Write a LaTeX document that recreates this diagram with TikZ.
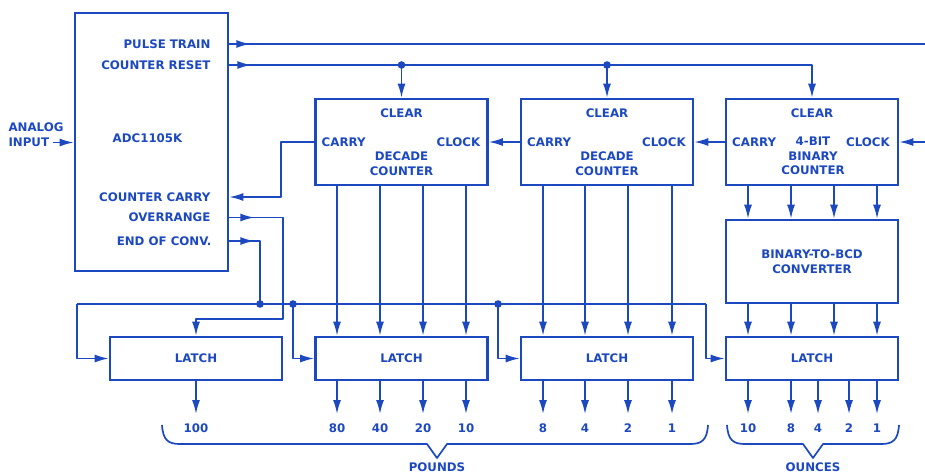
\documentclass[tikz,border=0pt]{standalone}
\usepackage{fontspec}
\setmainfont{DejaVu Sans}
\usetikzlibrary{arrows.meta,decorations.markings}
\definecolor{ink}{RGB}{28,72,192}

\begin{document}
\begin{tikzpicture}[x=1pt, y=-1pt,
  every node/.style={text=ink, font=\bfseries\fontsize{11.8}{14.5}\selectfont},
  box/.style={draw=ink, line width=2.6pt, rectangle, inner sep=0pt, minimum width=172pt},
  wire/.style={ink, line width=1.7pt, line join=round},
  >={Latex[length=14pt,width=8pt]},
  midarrow/.style={postaction={decorate},
    decoration={markings, mark=at position #1 with {\arrow{Latex[length=14pt,width=8pt]}}}}]
  \useasboundingbox (0,0) rectangle (925,475);

  \node (adc) [box, minimum width=153pt, minimum height=258pt] at (151.5,142) {};
  \node (ptLbl)  [anchor=east] at (214,44)    {PULSE TRAIN};
  \node (rstLbl) [anchor=east] at (214,65)    {COUNTER RESET};
  \node (adcName)              at (147.5,138) {ADC1105K};
  \node (carLbl) [anchor=east] at (214,197)   {COUNTER CARRY};
  \node (ovrLbl) [anchor=east] at (214,217.5) {OVERRANGE};
  \node (eocLbl) [anchor=east] at (215,241)   {END OF CONV.};
  \node (anLbl)  [anchor=west] at (5,127.5)   {ANALOG};
  \node (inLbl)  [anchor=west] at (5,142.5)   {INPUT};

  \node (tens)   [box, minimum height=86pt] at (401.5,142) {};
  \node (ones)   [box, minimum height=86pt] at (607,142)   {};
  \node (binary) [box, minimum height=86pt] at (812,142)   {};
  \node (bcd)    [box, minimum height=83pt, align=center] at (812,261.5) {BINARY-TO-BCD\\CONVERTER};

  \foreach \c in {tens,ones} {
    \node (clr\c) at ([yshift=29pt]\c.center) {CLEAR};
    \node (car\c) [anchor=west] at ([xshift=4pt]\c.west) {CARRY};
    \node (clk\c) [anchor=east] at ([xshift=-5pt]\c.east) {CLOCK};
    \node (kind\c) [align=center] at ([yshift=-21.5pt]\c.center) {DECADE\\COUNTER};
  }
  \node (clrbinary) at ([yshift=29pt]binary.center) {CLEAR};
  \node (carbinary) [anchor=west] at ([xshift=4pt]binary.west) {CARRY};
  \node (clkbinary) [anchor=east] at ([xshift=-6pt]binary.east) {CLOCK};
  \node (kindbinary) [align=center] at ([xshift=1pt,yshift=-14pt]binary.center) {4-BIT\\BINARY\\COUNTER};

  \node (latchH) [box, minimum height=43pt] at (196,358.5)   {LATCH};
  \node (latchT) [box, minimum height=43pt] at (401.5,358.5) {LATCH};
  \node (latchO) [box, minimum height=43pt] at (607,358.5)   {LATCH};
  \node (latchZ) [box, minimum height=43pt] at (812,358.5)   {LATCH};

  \coordinate (ptOut) at (925,44);
  \coordinate (clkIn) at (925,142);
  \coordinate (carJog) at (281,142);
  \coordinate (ovrJog) at (283,319);
  \coordinate (busW) at (77,304);
  \coordinate (busA) at (260,304);
  \coordinate (busB) at (293,304);
  \coordinate (busC) at (498,304);
  \coordinate (busE) at (706,304);

  \draw[wire,->] (inLbl.east) -- (adc.west |- inLbl.east);
  \draw[wire, midarrow=21pt] (adc.east |- ptLbl) -- (ptOut);
  \draw[wire, midarrow=22pt, ->] (adc.east |- rstLbl) -| (binary.north);
  \foreach \c in {tens,ones} {
    \fill[ink] (\c.north |- rstLbl) circle (3.8pt);
    \draw[wire,->] (\c.north |- rstLbl) -- (\c.north);
  }
  \draw[wire,->] (tens.west) -- (carJog) |- (adc.east |- carLbl);
  \draw[wire, midarrow=25pt, ->] (adc.east |- ovrLbl) -| (ovrJog) -| (latchH.north);

  \draw[wire,->] (ones.west) -- (tens.east);
  \draw[wire,->] (binary.west) -- (ones.east);
  \draw[wire,->] (clkIn) -- (binary.east);

  \draw[wire, midarrow=25pt] (adc.east |- eocLbl) -| (busA);
  \draw[wire] (busW) -- (busE);
  \foreach \p in {busA,busB,busC} \fill[ink] (\p) circle (3.8pt);
  \draw[wire,->] (busW) |- (latchH.west);
  \draw[wire,->] (busB) |- (latchT.west);
  \draw[wire,->] (busC) |- (latchO.west);
  \draw[wire,->] (busE) |- (latchZ.west);

  \foreach \xo/\lb [count=\i] in {337/80, 380/40, 423/20, 466/10} {
    \node (tn\i) at (\xo,428) {\lb};
    \draw[wire,->] (tn\i |- tens.south) -- (tn\i |- latchT.north);
    \draw[wire,->,shorten >=6pt] (tn\i |- latchT.south) -- (tn\i);
  }
  \foreach \xo/\lb [count=\i] in {543/8, 585/4, 628/2, 672/1} {
    \node (on\i) at (\xo,428) {\lb};
    \draw[wire,->] (on\i |- ones.south) -- (on\i |- latchO.north);
    \draw[wire,->,shorten >=6pt] (on\i |- latchO.south) -- (on\i);
  }
  \foreach \xo in {748,791,834,877} {
    \draw[wire,->] (\xo,0 |- binary.south) -- (\xo,0 |- bcd.north);
    \draw[wire,->] (\xo,0 |- bcd.south) -- (\xo,0 |- latchZ.north);
  }
  \foreach \xo/\lb [count=\i] in {748/10, 791/8, 818/4, 849/2, 877/1} {
    \node (oz\i) at (\xo,428) {\lb};
    \draw[wire,->,shorten >=6pt] (oz\i |- latchZ.south) -- (oz\i);
  }
  \node (hund) at (196,428) {100};
  \draw[wire,->,shorten >=6pt] (latchH.south) -- (hund);

  \draw[wire] (162,425) .. controls (163,440) and (168,444) .. (180,444) -- (427,444)
    -- (437,458) -- (447,444) -- (690,444) .. controls (702,444) and (707,440) .. (708,425);
  \node (pounds) at (437,467) {POUNDS};
  \draw[wire] (727,425) .. controls (728,440) and (733,444) .. (745,444) -- (803,444)
    -- (813,458) -- (823,444) -- (881,444) .. controls (893,444) and (898,440) .. (899,425);
  \node (ounces) at (813,467) {OUNCES};
\end{tikzpicture}
\end{document}
